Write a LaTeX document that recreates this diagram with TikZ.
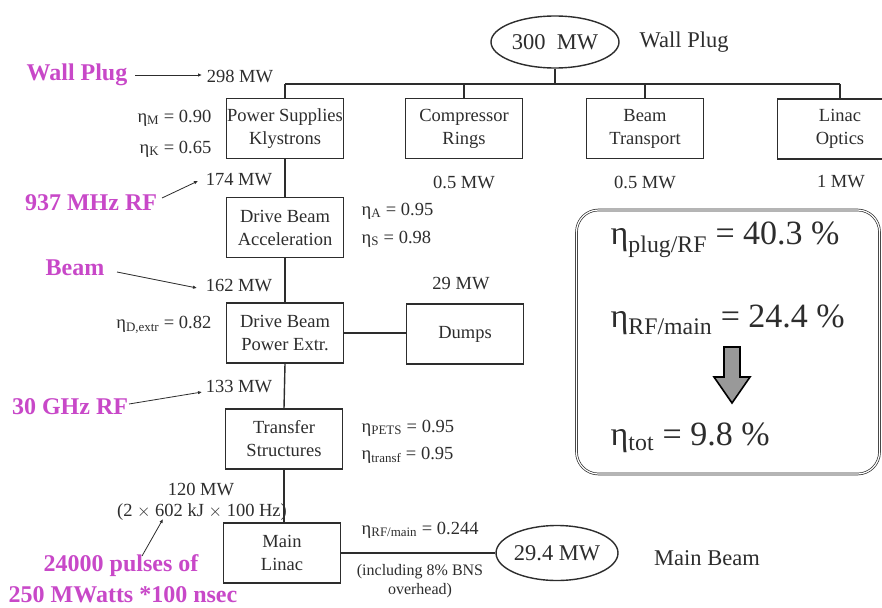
\documentclass[tikz,border=0pt]{standalone}
\usepackage{fontspec}
\setmainfont{Liberation Serif}
\usetikzlibrary{shapes.geometric,arrows.meta,calc}
\definecolor{mag}{RGB}{200,72,200}
\definecolor{ink}{RGB}{45,45,45}
\begin{document}
\begin{tikzpicture}[x=1pt,y=-1pt,
  line width=1.4pt, draw=ink, text=ink,
  every node/.style={font=\fontsize{18.5}{23}\selectfont, text=ink, inner sep=0pt},
  blk/.style={draw=ink, line width=1.4pt, minimum width=117pt, minimum height=60pt, align=center},
  oval/.style={draw=ink, line width=1.4pt, ellipse, minimum width=128pt, minimum height=52pt},
  lab/.style={font=\fontsize{24}{28}\selectfont\bfseries, text=mag, align=center},
  big/.style={font=\fontsize{34}{38}\selectfont, anchor=west},
  ptr/.style={draw=ink, line width=0.8pt, -{Latex[length=4pt,width=3.5pt]}},
  wire/.style={draw=ink, line width=1.4pt},
  lg/.style={font=\fontsize{22.5}{26}\selectfont}]
\useasboundingbox (0,0) rectangle (882,607);
\fill[white] (0,0) rectangle (882,607);

% top
\node[oval, lg] (wp) at (555,42) {300\ \ MW};
\node[anchor=west, lg] (wpt) at (639,42) {Wall Plug};
\coordinate (bus) at (555,84);
\node[blk] (ps) at (285,128.5) {Power Supplies\\Klystrons};
\node[blk] (cr) at (464,128.5) {Compressor\\Rings};
\node[blk] (bt) at (645,128.5) {Beam\\Transport};
\node[blk, minimum width=125pt] (lo) at (840,129) {Linac\\Optics};
\coordinate (busL) at (ps.north |- bus);
\coordinate (busR) at (lo.north |- bus);
\draw[wire] (wp.south) -- (bus);
\draw[wire] (busL) -- (busR);
\draw[wire] (busL) -- (ps.north);
\draw[wire] (cr.north |- bus) -- (cr.north);
\draw[wire] (bt.north |- bus) -- (bt.north);
\draw[wire] (busR) -- (lo.north);
\node (crp) at (464,182) {0.5 MW};
\node (btp) at (645,182) {0.5 MW};
\node (lop) at (841,182) {1 MW};

% chain
\node[blk] (dba) at (285,227.5) {Drive Beam\\Acceleration};
\node[blk] (dbp) at (285,333) {Drive Beam\\Power Extr.};
\node[blk] (dmp) at (465,334) {Dumps};
\node[blk] (ts) at (284,439) {Transfer\\Structures};
\node[blk] (ml) at (282,553) {Main\\Linac};
\draw[wire] (ps.south) -- (dba.north);
\draw[wire] (dba.south) -- (dbp.north);
\draw[wire] (dbp.south) -- (ts.north);
\draw[wire] (ts.south) -- (ts.south |- ml.north);
\draw[wire] (dbp.east) -- (dbp.east -| dmp.west);
\node (dmpp) at (461,284) {29 MW};

\node[oval, lg, minimum width=120pt, minimum height=55pt] (mb) at (557,553) {29.4 MW};
\draw[wire] (ml.east) -- (mb.west);
\node[lg] (mbt) at (707,558) {Main Beam};

% powers
\node (p298) at (240,76) {298 MW};
\node (p174) at (239,180) {174 MW};
\node (p162) at (239,286) {162 MW};
\node (p133) at (239,387) {133 MW};
\node (p120) at (201,489) {120 MW};
\node (p120b) at (202,512) {(2 $\times$ 602 kJ $\times$ 100 Hz)};

% efficiencies
\node[anchor=east] (em) at (212,118) {η\textsubscript{M} = 0.90};
\node[anchor=east] (ek) at (212,149) {η\textsubscript{K} = 0.65};
\node[anchor=west] (ea) at (361,211) {η\textsubscript{A} = 0.95};
\node[anchor=west] (es) at (361,239) {η\textsubscript{S} = 0.98};
\node[anchor=east] (ed) at (212,325) {η\textsubscript{D,extr} = 0.82};
\node[anchor=west] (ep) at (361,428) {η\textsubscript{PETS} = 0.95};
\node[anchor=west] (et) at (361,455) {η\textsubscript{transf} = 0.95};
\node[anchor=west] (er) at (361,530) {η\textsubscript{RF/main} = 0.244};
\node[align=center, font=\fontsize{16}{19}\selectfont] (inc) at (420,581) {(including 8\% BNS\\overhead)};

% magenta labels
\node[lab] (lwp) at (77,75) {Wall Plug};
\node[lab] (l937) at (91,203) {937 MHz RF};
\node[lab] (lbeam) at (75,268) {Beam};
\node[lab] (l30) at (70,407) {30 GHz RF};
\node[lab] (lpul) at (121,566) {24000 pulses of};
\node[lab] (lpul2) at (123,595) {250 MWatts *100 nsec};
\coordinate (a1s) at (135,75); \coordinate (a1e) at (202,75);
\coordinate (a2s) at (162,198); \coordinate (a2e) at (198,181);
\coordinate (a3s) at (117,272); \coordinate (a3e) at (197,288);
\coordinate (a4s) at (129,404); \coordinate (a4e) at (202,392);
\coordinate (a5s) at (142,556); \coordinate (a5e) at (163,519);
\draw[ptr] (a1s) -- (a1e);
\draw[ptr] (a2s) -- (a2e);
\draw[ptr] (a3s) -- (a3e);
\draw[ptr] (a4s) -- (a4e);
\draw[ptr] (a5s) -- (a5e);

% summary box
\node[draw=ink, line width=0.7pt, double, double distance=1.2pt, rounded corners=22pt,
      minimum width=303pt, minimum height=264pt] (sum) at (728,342) {};
\node[big] (s1) at (610,240) {η\textsubscript{plug/RF} = 40.3 \%};
\node[big] (s2) at (610,320) {η\textsubscript{RF/main} = 24.4 \%};
\node[big] (s3) at (610,438) {η\textsubscript{tot} = 9.8 \%};
\coordinate (da) at (732,347);
\draw[fill=gray!80, draw=black, line width=1.6pt]
  ($(da)+(-8,0)$) -- ($(da)+(8,0)$) -- ($(da)+(8,30)$) -- ($(da)+(18,30)$) -- ($(da)+(0,56)$)
  -- ($(da)+(-18,30)$) -- ($(da)+(-8,30)$) -- cycle;
\end{tikzpicture}
\end{document}
